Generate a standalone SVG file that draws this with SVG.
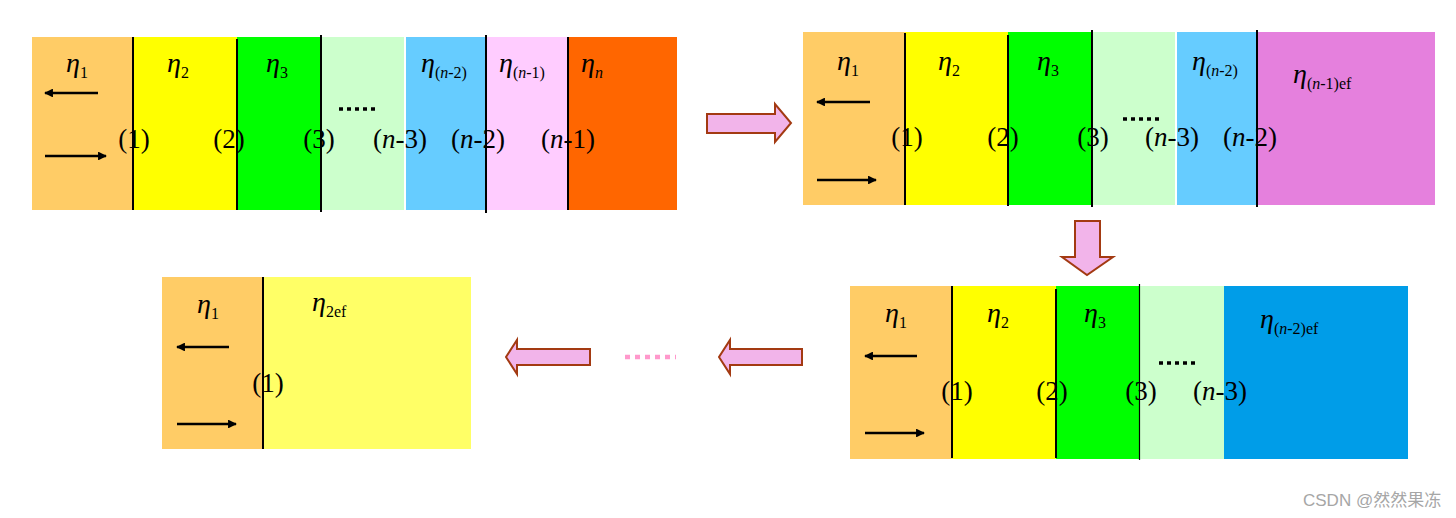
<svg xmlns="http://www.w3.org/2000/svg" width="1456" height="518" viewBox="0 0 1456 518">
<defs>
<marker id="ah" viewBox="0 0 10 10" refX="9" refY="5" markerWidth="4" markerHeight="3.4" orient="auto" markerUnits="strokeWidth">
<path d="M0,0 L10,5 L0,10 z" fill="#000"/>
</marker>
<style>
.eta{font-family:"Liberation Serif","Times New Roman",serif;font-style:italic;font-size:28px;fill:#000}
.sub{font-family:"Liberation Serif","Times New Roman",serif;font-style:normal;font-size:16px}
.it{font-style:italic}
.num{font-family:"Liberation Serif","Times New Roman",serif;font-size:27px;fill:#000;text-anchor:middle}
.div{stroke:#000;stroke-width:2}
.ar{stroke:#000;stroke-width:2.6;marker-end:url(#ah)}
.dots{stroke:#000;stroke-width:3.5;stroke-dasharray:4 4}
.blk{fill:#F2B4EA;stroke:#A33A12;stroke-width:2;stroke-linejoin:miter}
</style>
</defs>
<rect width="1456" height="518" fill="#fff"/>

<g id="panel-n">
<rect x="32" y="37" width="102" height="173" fill="#FFCC66"/>
<rect x="134" y="37" width="103" height="173" fill="#FFFF00"/>
<rect x="237" y="37" width="84" height="173" fill="#00FF00"/>
<rect x="321" y="37" width="83" height="173" fill="#CCFFCC"/>
<rect x="406" y="37" width="80" height="173" fill="#66CCFF"/>
<rect x="486" y="37" width="82" height="173" fill="#FFCCFF"/>
<rect x="568" y="37" width="109" height="173" fill="#FF6600"/>
<line class="div" x1="133" y1="37" x2="133" y2="210"/>
<line class="div" x1="237" y1="39" x2="237" y2="210"/>
<line class="div" x1="321" y1="35" x2="321" y2="212"/>
<line class="div" x1="486" y1="35" x2="486" y2="213"/>
<line class="div" x1="568" y1="37" x2="568" y2="210"/>
<line class="ar" x1="98" y1="93" x2="45" y2="93"/>
<line class="ar" x1="45" y1="156" x2="106" y2="156"/>
<line class="dots" x1="339" y1="109" x2="375" y2="109"/>
<text class="eta" x="66" y="72">η<tspan class="sub" dy="6">1</tspan></text>
<text class="eta" x="167" y="72">η<tspan class="sub" dy="6">2</tspan></text>
<text class="eta" x="266" y="72">η<tspan class="sub" dy="6">3</tspan></text>
<text class="eta" x="421" y="72">η<tspan class="sub" dy="6">(<tspan class="it">n</tspan>-2)</tspan></text>
<text class="eta" x="499" y="72">η<tspan class="sub" dy="6">(<tspan class="it">n</tspan>-1)</tspan></text>
<text class="eta" x="581" y="72">η<tspan class="sub it" dy="6">n</tspan></text>
<text class="num" x="134" y="148">(1)</text>
<text class="num" x="229" y="148">(2)</text>
<text class="num" x="319" y="148">(3)</text>
<text class="num" x="400" y="148">(<tspan class="it">n</tspan>-3)</text>
<text class="num" x="478" y="148">(<tspan class="it">n</tspan>-2)</text>
<text class="num" x="568" y="148">(<tspan class="it">n</tspan>-1)</text>
</g>

<g id="panel-n-1">
<rect x="803" y="32" width="102" height="173" fill="#FFCC66"/>
<rect x="905" y="32" width="103" height="173" fill="#FFFF00"/>
<rect x="1008" y="32" width="84" height="173" fill="#00FF00"/>
<rect x="1092" y="32" width="83" height="173" fill="#CCFFCC"/>
<rect x="1177" y="32" width="80" height="173" fill="#66CCFF"/>
<rect x="1257" y="32" width="178" height="173" fill="#E580DD"/>
<line class="div" x1="905" y1="33" x2="905" y2="205"/>
<line class="div" x1="1008" y1="35" x2="1008" y2="206"/>
<line class="div" x1="1092" y1="30" x2="1092" y2="207"/>
<line class="div" x1="1257" y1="30" x2="1257" y2="207"/>
<line class="ar" x1="870" y1="102" x2="817" y2="102"/>
<line class="ar" x1="817" y1="180" x2="876" y2="180"/>
<line class="dots" x1="1123" y1="119" x2="1159" y2="119"/>
<text class="eta" x="837" y="70">η<tspan class="sub" dy="6">1</tspan></text>
<text class="eta" x="938" y="70">η<tspan class="sub" dy="6">2</tspan></text>
<text class="eta" x="1037" y="70">η<tspan class="sub" dy="6">3</tspan></text>
<text class="eta" x="1192" y="70">η<tspan class="sub" dy="6">(<tspan class="it">n</tspan>-2)</tspan></text>
<text class="eta" x="1293" y="83">η<tspan class="sub" dy="6">(<tspan class="it">n</tspan>-1)ef</tspan></text>
<text class="num" x="907" y="146">(1)</text>
<text class="num" x="1003" y="146">(2)</text>
<text class="num" x="1093" y="146">(3)</text>
<text class="num" x="1172" y="146">(<tspan class="it">n</tspan>-3)</text>
<text class="num" x="1250" y="146">(<tspan class="it">n</tspan>-2)</text>
</g>

<g id="panel-n-2">
<rect x="850" y="286" width="102" height="173" fill="#FFCC66"/>
<rect x="952" y="286" width="104" height="173" fill="#FFFF00"/>
<rect x="1056" y="286" width="84" height="173" fill="#00FF00"/>
<rect x="1140" y="286" width="84" height="173" fill="#CCFFCC"/>
<rect x="1224" y="286" width="184" height="173" fill="#009DE8"/>
<line class="div" x1="952" y1="286" x2="952" y2="458"/>
<line class="div" x1="1056" y1="289" x2="1056" y2="458"/>
<line x1="1139.5" y1="284" x2="1139.5" y2="460" stroke="#000" stroke-width="1.2"/>
<line class="ar" x1="917" y1="356" x2="865" y2="356"/>
<line class="ar" x1="865" y1="433" x2="924" y2="433"/>
<line class="dots" x1="1159" y1="363" x2="1195" y2="363"/>
<text class="eta" x="885" y="322">η<tspan class="sub" dy="6">1</tspan></text>
<text class="eta" x="987" y="322">η<tspan class="sub" dy="6">2</tspan></text>
<text class="eta" x="1084" y="322">η<tspan class="sub" dy="6">3</tspan></text>
<text class="eta" x="1260" y="328">η<tspan class="sub" dy="6">(<tspan class="it">n</tspan>-2)ef</tspan></text>
<text class="num" x="957" y="400">(1)</text>
<text class="num" x="1052" y="400">(2)</text>
<text class="num" x="1141" y="400">(3)</text>
<text class="num" x="1220" y="400">(<tspan class="it">n</tspan>-3)</text>
</g>

<g id="panel-2">
<rect x="162" y="277" width="101" height="172" fill="#FFCC66"/>
<rect x="263" y="277" width="208" height="172" fill="#FFFF66"/>
<line class="div" x1="263" y1="277" x2="263" y2="449"/>
<line class="ar" x1="229" y1="347" x2="177" y2="347"/>
<line class="ar" x1="177" y1="424" x2="236" y2="424"/>
<text class="eta" x="197" y="313">η<tspan class="sub" dy="6">1</tspan></text>
<text class="eta" x="312" y="311">η<tspan class="sub" dy="6">2ef</tspan></text>
<text class="num" x="268" y="392">(1)</text>
</g>

<g id="connectors">
<path class="blk" d="M707,114 L775,114 L775,104 L791,123 L775,142 L775,133 L707,133 Z"/>
<path class="blk" d="M1075,221 L1100,221 L1100,257 L1113,257 L1087,275 L1062,257 L1075,257 Z"/>
<path class="blk" d="M802,349 L730,349 L730,340 L719,357 L730,374 L730,365 L802,365 Z"/>
<path class="blk" d="M590,349 L517,349 L517,340 L506,357 L517,374 L517,365 L590,365 Z"/>
<line x1="625" y1="357" x2="676" y2="357" stroke="#FF99CC" stroke-width="4.5" stroke-dasharray="5 5"/>
</g>

<text x="1303" y="506" font-family="'Liberation Sans','Noto Sans CJK SC',sans-serif" font-size="17" fill="#A6A6A6">CSDN @然然果冻</text>
</svg>
